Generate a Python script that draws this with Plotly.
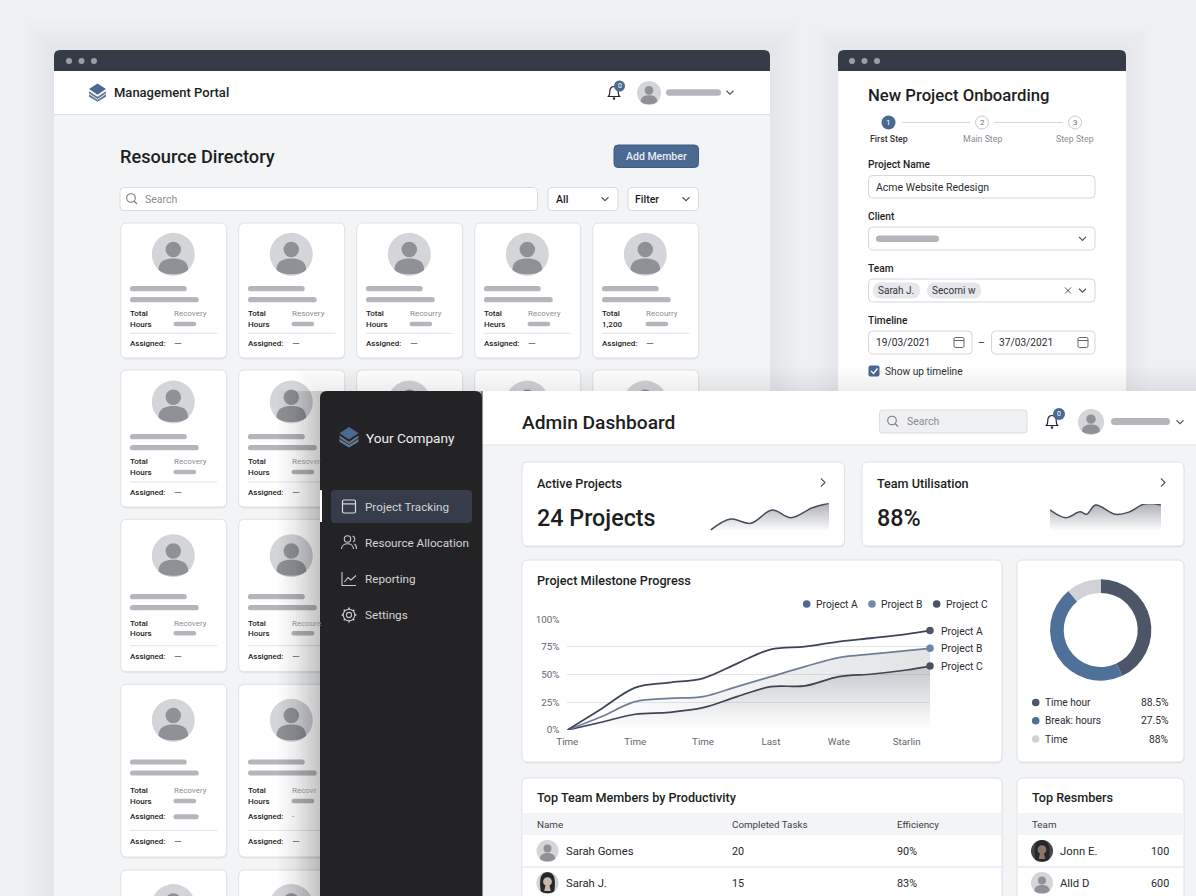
import math
import plotly.graph_objects as go

W = 1196
H = 896

# line chart
milestone_x = [0, 0.5, 1, 1.5, 2, 2.5, 3, 3.5, 4, 4.5, 5, 5.344]
project_a = [0, 19, 38.3, 42.8, 46.7, 60, 72.9, 75.3, 79.8, 83.1, 86.7, 89.8]
project_b = [0, 12, 25.6, 28.6, 30.1, 39.2, 48.2, 57.2, 65.4, 68.7, 71.7, 73.8]
project_c = [0, 7, 14.2, 16, 20.2, 30.1, 39.2, 39.8, 48.2, 50.6, 54.2, 57.8]
time_ticks = [0, 1, 2, 3, 4, 5]
time_labels = ["Time", "Time", "Time", "Last", "Wate", "Starlin"]
pct_ticks = [0, 25, 50, 75, 100]
pct_labels = ["0%", "25%", "50%", "75%", "100%"]
series_names = ["Project A", "Project B", "Project C"]

# sparklines
active_x = [0, 0.17, 0.34, 0.52, 0.68, 0.86, 1]
active_y = [5, 44, 29, 76, 49, 84, 100]
util_x = [0, 0.14, 0.27, 0.33, 0.41, 0.59, 0.71, 0.85, 1]
util_y = [78, 49, 71, 62, 96, 62, 70, 100, 96]

# donut
donut_labels = ["Time hour", "Break: hours", "Time"]
donut_values = [43, 46, 11]
donut_texts = ["88.5%", "27.5%", "88%"]

# tables
member_names = ["Sarah Gomes", "Sarah J."]
member_tasks = ["20", "15"]
member_eff = ["90%", "83%"]
res_names = ["Jonn E.", "Alld D"]
res_vals = ["100", "600"]

# directory cards
row1_hours = ["Hours", "Hours", "Hours", "Heurs", "1,200"]
row1_status = ["Recovery", "Resovery", "Recourry", "Recovery", "Recourry"]
col_status = [["Recovery", "Resover"], ["Recovery", "Recoure"], ["Recovery", "Recovr"]]

DARK_BAR = "#363c47"
BLUE = "#4a6a92"
INK = "#1c1e22"
GREY_TXT = "#8a8d94"
BAR = "#b4b6bb"
EDGE = "#dfe1e6"
PANEL = "#f3f4f6"

shapes = []
notes = []


def px_x(x):
    return x / W


def px_y(y):
    return 1 - y / H


def path(d, fill=None, line=None, lw=1.0):
    s = dict(type="path", path=d, xref="x", yref="y", layer="below")
    s["fillcolor"] = fill if fill else "rgba(0,0,0,0)"
    s["line"] = dict(color=line, width=lw) if line else dict(width=0)
    shapes.append(s)


def rr(x0, y0, x1, y1, r, fill=None, line=None, lw=1.0, top_only=False):
    if top_only:
        d = (f"M{x0},{y1} L{x0},{y0+r} Q{x0},{y0} {x0+r},{y0} L{x1-r},{y0} "
             f"Q{x1},{y0} {x1},{y0+r} L{x1},{y1} Z")
    else:
        d = (f"M{x0+r},{y0} L{x1-r},{y0} Q{x1},{y0} {x1},{y0+r} L{x1},{y1-r} "
             f"Q{x1},{y1} {x1-r},{y1} L{x0+r},{y1} Q{x0},{y1} {x0},{y1-r} "
             f"L{x0},{y0+r} Q{x0},{y0} {x0+r},{y0} Z")
    path(d, fill, line, lw)


def circle(cx, cy, r, fill=None, line=None, lw=1.0):
    shapes.append(dict(type="circle", xref="x", yref="y", layer="below",
                       x0=cx-r, x1=cx+r, y0=cy-r, y1=cy+r,
                       fillcolor=fill if fill else "rgba(0,0,0,0)",
                       line=dict(color=line, width=lw) if line else dict(width=0)))


def pill(x0, x1, y, h, fill=BAR):
    rr(x0, y-h/2, x1, y+h/2, h/2, fill)


def hline(x0, x1, y, color=EDGE, lw=1.0):
    path(f"M{x0},{y} L{x1},{y}", None, color, lw)


def txt(x, y, s, size=10, color=INK, anchor="left", weight=400):
    notes.append(dict(x=x, y=y, xref="x", yref="y", text=s, showarrow=False,
                      xanchor=anchor, yanchor="middle", borderpad=0, borderwidth=0,
                      font=dict(family="Roboto", size=size, color=color, weight=weight)))


def shadow(x0, y0, x1, y1, spread, n, alpha, left=True, top=True, right=True):
    for i in range(n):
        k = spread * (n - i) / n
        rr(x0 - (k if left else 0), y0 - (k if top else 0),
           x1 + (k if right else 0), y1, 2, f"rgba(30,33,40,{alpha})")


def avatar(cx, cy, r, bg="#d3d5d9", fg="#8f9196"):
    circle(cx, cy, r, bg)
    circle(cx, cy - 0.22*r, 0.36*r, fg)
    path(f"M{cx-.69*r},{cy+.72*r} C{cx-.69*r},{cy+.3*r} {cx-.35*r},{cy+.19*r} {cx},{cy+.19*r} "
         f"C{cx+.35*r},{cy+.19*r} {cx+.69*r},{cy+.3*r} {cx+.69*r},{cy+.72*r} "
         f"C{cx+.45*r},{cy+1.0*r} {cx-.45*r},{cy+1.0*r} {cx-.69*r},{cy+.72*r} Z", fg)


def photo(cx, cy, r, hair, face, bg):
    circle(cx, cy, r, bg)
    path(f"M{cx-.62*r},{cy+.75*r} C{cx-.85*r},{cy-.9*r} {cx-.3*r},{cy-.98*r} {cx},{cy-.98*r} "
         f"C{cx+.3*r},{cy-.98*r} {cx+.85*r},{cy-.9*r} {cx+.62*r},{cy+.75*r} "
         f"C{cx+.4*r},{cy+.98*r} {cx-.4*r},{cy+.98*r} {cx-.62*r},{cy+.75*r} Z", hair)
    circle(cx, cy - .12*r, .4*r, face)
    path(f"M{cx-.18*r},{cy+.2*r} L{cx-.3*r},{cy+.72*r} L{cx+.3*r},{cy+.72*r} L{cx+.18*r},{cy+.2*r} Z", face)


def chevron(cx, cy, s=3.5, color="#50535a", lw=1.1):
    path(f"M{cx-s},{cy-s*.5} L{cx},{cy+s*.5} L{cx+s},{cy-s*.5}", None, color, lw)


def chevron_right(cx, cy, s=4, color="#50535a"):
    path(f"M{cx-s*.5},{cy-s} L{cx+s*.5},{cy} L{cx-s*.5},{cy+s}", None, color, 1.1)


def search_icon(cx, cy, color="#75787e"):
    circle(cx-1, cy-1, 4.3, None, color, 1.1)
    path(f"M{cx+2},{cy+2} L{cx+5},{cy+5}", None, color, 1.1)


def calendar(cx, cy, color="#63666c", s=5, lw=1.0):
    rr(cx-s, cy-s, cx+s, cy+s, 1.5, None, color, lw)
    hline(cx-s, cx+s, cy-s*.4, color, lw)


def logo(cx, cy, s):
    path(f"M{cx-s},{cy+.2*s} L{cx},{cy+.85*s} L{cx+s},{cy+.2*s} L{cx+s},{cy+.5*s} L{cx},{cy+1.1*s} L{cx-s},{cy+.5*s} Z", "#5f7da3")
    path(f"M{cx-s},{cy-.15*s} L{cx},{cy+.5*s} L{cx+s},{cy-.15*s} L{cx+s},{cy+.1*s} L{cx},{cy+.75*s} L{cx-s},{cy+.1*s} Z", "#6b7484")
    path(f"M{cx-s},{cy-.4*s} L{cx},{cy-1.05*s} L{cx+s},{cy-.4*s} L{cx},{cy+.25*s} Z", BLUE)


def bell(cx, cy, badge_x, badge_y, br):
    path(f"M{cx-5.5},{cy+4} C{cx-3.5},{cy+2} {cx-4.5},{cy-2} {cx-4},{cy-3} "
         f"C{cx-3},{cy-7} {cx+3},{cy-7} {cx+4},{cy-3} C{cx+4.5},{cy-2} {cx+3.5},{cy+2} {cx+5.5},{cy+4} Z",
         None, "#24262b", 1.2)
    circle(cx, cy+6, 1.3, "#24262b")
    circle(badge_x, badge_y, br, BLUE)
    txt(badge_x, badge_y, "0", 7, "white", "center")


def window_dots(x, y):
    for dx in (0, 12.5, 25):
        circle(x+dx, y, 3, "#9a9fa6")


def card(x0, y0, x1, y1, r=6):
    rr(x0+.5, y0+1, x1+.5, y1+1.5, r, "rgba(40,44,55,0.07)")
    rr(x0, y0, x1, y1, r, "white", EDGE, 1)


# ---- left window
shadow(54, 50, 770, 896, 30, 10, 0.004)
rr(54, 50, 770, 896, 6, PANEL, top_only=True)
rr(54, 50, 770, 72, 6, DARK_BAR, top_only=True)
window_dots(69, 61)
path("M54,71 L770,71 L770,114.5 L54,114.5 Z", "white")
hline(54, 770, 114.5)
logo(97.5, 92.5, 8.5)
txt(114, 92.5, "Management Portal", 13, INK, weight=500)
bell(614, 92.5, 619.5, 86, 5.5)
avatar(649, 93, 12)
pill(666, 721, 92.5, 6.5)
chevron(730, 92.5)

txt(120, 156, "Resource Directory", 18.2, INK, weight=500)
rr(614, 145, 698.5, 167.5, 4, BLUE, "#3f5d83", 1)
txt(656, 156, "Add Member", 10.5, "#e9edf2", "center", 500)
rr(120, 187.5, 537.5, 210.5, 4, "white", "#d8dade", 1)
search_icon(132, 199)
txt(145, 199, "Search", 10.5, GREY_TXT)
rr(548, 187.5, 618, 210.5, 4, "white", "#d8dade", 1)
txt(555.5, 199, "All", 10.5, INK, weight=500)
chevron(605, 199)
rr(628, 187.5, 698.5, 210.5, 4, "white", "#d8dade", 1)
txt(635, 199, "Filter", 10.5, INK, weight=500)
chevron(686, 199)

col_x = [120.7, 238.7, 356.7, 474.7, 592.7]
# top, bottom, avatar y, bar1, bar2, total y, hours y, divider y, assigned y
rows = [
    (223, 358, 254.3, 288.7, 299.7, 313.7, 324, 333.3, 343),
    (370, 507, 402, 436.7, 447.7, 461.7, 472, 482, 492),
    (519.3, 671.7, 555.7, 596.7, 607.7, 623.3, 633.3, 645.7, 656.3),
    (684.3, 857, 720.3, 762, 773, 790.7, 801, 830.3, 841),
]


def dir_card(x, row, hours, status, draw_text=True):
    top, bot, ay, b1, b2, ty, hy, dy, asy = row
    card(x, top, x+106, bot)
    avatar(x+52.6, ay, 21.5)
    pill(x+9.3, x+66, b1, 5.2)
    pill(x+9.3, x+78, b2, 5.2)
    pill(x+52.8, x+75.5, hy, 4.5)
    hline(x+9.3, x+96.5, dy, "#e2e3e8")
    if draw_text:
        txt(x+9.3, ty, "Total", 8, INK, weight=500)
        txt(x+9.3, hy, hours, 8, INK, weight=500)
        txt(x+52.8, ty, status, 8, GREY_TXT)
        txt(x+9.3, asy, "Assigned:", 8, INK, weight=500)
        txt(x+52.8, asy, "—", 10, "#6b6e74")


for i, x in enumerate(col_x):
    dir_card(x, rows[0], row1_hours[i], row1_status[i])
for r in range(1, 4):
    for c in range(2):
        dir_card(col_x[c], rows[r], "Hours", col_status[r-1][c])
for x in col_x[2:]:
    dir_card(x, rows[1], "Hours", "", draw_text=False)

# extra line in the 4th row
txt(col_x[0]+9.3, 816.7, "Assigned:", 8, INK, weight=500)
pill(col_x[0]+52.8, col_x[0]+78, 816.7, 5)
txt(col_x[1]+9.3, 816.7, "Assigned:", 8, INK, weight=500)
txt(col_x[1]+52.8, 816.7, "-", 8, "#6b6e74")

# fifth row, cut off by the page
for x in col_x[:2]:
    card(x, 870, x+106, 930)
    avatar(x+52.6, 906, 22)

# ---- right window
shadow(838, 50, 1126, 896, 25, 8, 0.004)
rr(838, 50, 1126, 72, 6, DARK_BAR, top_only=True)
path("M838,71 L1126,71 L1126,400 L838,400 Z", "white")
window_dots(852, 61)
txt(868, 95.5, "New Project Onboarding", 16.7, INK, weight=500)

circle(888.5, 122.5, 7, BLUE)
txt(888.5, 122.5, "1", 8, "white", "center")
hline(902, 970, 122.5, "#d5d7db")
circle(982, 122.5, 6.5, "white", "#c9cbd0", 1)
txt(982, 122.5, "2", 8, "#6b6e74", "center")
hline(994, 1063, 122.5, "#d5d7db")
circle(1075, 122.5, 6.5, "white", "#c9cbd0", 1)
txt(1075, 122.5, "3", 8, "#6b6e74", "center")
txt(889, 138.8, "First Step", 8.8, "#30333a", "center", 500)
txt(982, 138.8, "Main Step", 8.8, GREY_TXT, "center")
txt(1075, 138.8, "Step Step", 8.8, GREY_TXT, "center")

txt(868, 164.5, "Project Name", 10.2, INK, weight=500)
rr(868.5, 175.5, 1095, 198, 4, "white", "#d5d7db", 1)
txt(876, 187, "Acme Website Redesign", 10.5, "#2c2e33")
txt(868, 216, "Client", 10.2, INK, weight=500)
rr(868.5, 227, 1095, 250, 4, "white", "#d5d7db", 1)
pill(876, 939, 238.7, 6.5)
chevron(1082.5, 238.7)
txt(868, 268, "Team", 10.2, INK, weight=500)
rr(868.5, 279, 1095, 302, 4, "white", "#d5d7db", 1)
rr(873, 282.5, 920, 298.5, 8, "#e6e7ea")
txt(878, 290.5, "Sarah J.", 10, "#34363c")
rr(927, 282.5, 981, 298.5, 8, "#e6e7ea")
txt(932, 290.5, "Secorni w", 10, "#34363c")
path("M1065,287.5 L1071,293.5 M1071,287.5 L1065,293.5", None, "#50535a", 1)
chevron(1082.5, 290.5)
txt(868, 320, "Timeline", 10.2, INK, weight=500)
rr(868.5, 331, 972, 354, 4, "white", "#d5d7db", 1)
txt(876, 342.5, "19/03/2021", 10.2, "#2c2e33")
calendar(959, 342.5)
txt(981.5, 342.5, "–", 10.5, "#2c2e33", "center")
rr(991.5, 331, 1095, 354, 4, "white", "#d5d7db", 1)
txt(999, 342.5, "37/03/2021", 10.2, "#2c2e33")
calendar(1083, 342.5)
rr(868.5, 365.5, 879.5, 376.5, 2, BLUE)
path("M871,371 L873.5,373.5 L877.5,368.5", None, "white", 1.3)
txt(885, 371, "Show up timeline", 10.2, "#2c2e33")

# ---- dashboard
shadow(320, 391, 1300, 940, 24, 8, 0.007, right=False)
shadow(320, 391, 1300, 940, 42, 14, 0.013, top=False, right=False)
rr(482, 391, 1196, 896, 0.1, PANEL)
path("M482,391 L1196,391 L1196,445 L482,445 Z", "white")
hline(482, 1196, 445, "#e3e4e8")
rr(320, 391, 482, 896, 7, "#232326", top_only=True)
path("M482,391 L482,896", None, "#2a2a2d", 1)

logo(349, 437, 9.5)
txt(366, 437.5, "Your Company", 13.6, "#eef0f2", weight=400)
rr(320, 490, 322, 522, 0.5, "white")
rr(331, 490, 472, 523, 4, "#363c49")
menu_items = ["Project Tracking", "Resource Allocation", "Reporting", "Settings"]
menu_y = [506.5, 542.5, 578.5, 615]
for label, y in zip(menu_items, menu_y):
    txt(365, y, label, 11.7, "#d3d4d7")
calendar(349, 506.5, "#d9dadd", 6.5, 1.2)
circle(347.5, 539, 3.2, None, "#c9cacd", 1.1)
path("M341.5,549 C341.5,542 353.5,542 353.5,549", None, "#c9cacd", 1.1)
path("M352.5,536 C355.5,537 355.5,541 353,542 M354.5,544 C356.5,545 356.5,547 356.5,549", None, "#c9cacd", 1.1)
path("M342,572 L342,585.5 L356,585.5 M344.5,582 L348,577.5 L351,580 L356,575.5", None, "#c9cacd", 1.1)
circle(349, 615, 2.6, None, "#c9cacd", 1.1)
circle(349, 615, 5.8, None, "#c9cacd", 1.1)
for k in range(8):
    a = k * math.pi / 4
    path(f"M{349+5.8*math.cos(a)},{615+5.8*math.sin(a)} L{349+7.4*math.cos(a)},{615+7.4*math.sin(a)}",
         None, "#c9cacd", 1.6)

txt(522, 422, "Admin Dashboard", 19.2, INK, weight=500)
rr(879.5, 410, 1027, 433, 3, "#eef0f2", "#dcdee2", 1)
search_icon(893, 421.5)
txt(907, 421.5, "Search", 10.5, GREY_TXT)
bell(1052, 421.5, 1059, 414, 6)
avatar(1091, 422, 13)
pill(1111, 1170, 421.5, 7)
chevron(1180, 422)

card(522, 462, 844.5, 546)
txt(537, 483, "Active Projects", 12.6, INK, weight=500)
txt(537, 518, "24 Projects", 23.3, INK, weight=500)
chevron_right(823, 482.5)
card(862, 462, 1184, 546)
txt(877, 483, "Team Utilisation", 12.6, INK, weight=500)
txt(877, 518, "88%", 23.3, INK, weight=500)
chevron_right(1163, 482.5)

card(522, 560, 1002, 762)
txt(537, 580.5, "Project Milestone Progress", 12.7, INK, weight=500)
dot_colors = [BLUE, "#7389aa", "#4a5261"]
for dx, lx, name, col in zip([806.7, 872, 936.7], [815.5, 881, 945.5], series_names, dot_colors):
    circle(dx, 604, 3.8, col)
    txt(lx, 604, name, 10.3, "#2b2d32")
for y, name in zip([631, 648.7, 666.3], series_names):
    txt(941, y, name, 10.3, "#2b2d32")

card(1017, 560, 1184, 762)
donut_colors = ["#4d5666", "#4f7099", "#d0d2d6"]
for y, label, val, col in zip([702.5, 720.8, 739], donut_labels, donut_texts, donut_colors):
    circle(1035.7, y, 3.8, col)
    txt(1045, y, label, 10.1, "#2b2d32")
    txt(1169, y, val, 10.3, "#2b2d32", "right")

card(522, 778, 1002, 930)
txt(537, 797.5, "Top Team Members by Productivity", 12.6, INK, weight=500)
path("M522.5,813 L1001.5,813 L1001.5,835 L522.5,835 Z", PANEL)
txt(537, 824.5, "Name", 9.8, "#3c3e44")
txt(732, 824.5, "Completed Tasks", 9.8, "#3c3e44")
txt(897, 824.5, "Efficiency", 9.8, "#3c3e44")
hline(522.5, 1001.5, 867, "#e7e8ec", 1.5)
for y, name, t, e in zip([851, 883], member_names, member_tasks, member_eff):
    txt(565.5, y, name, 11.3, "#26282d")
    txt(732, y, t, 10.8, "#26282d")
    txt(897, y, e, 10.8, "#26282d")
avatar(547.5, 851, 11)
photo(547.5, 883, 11, "#25262a", "#c9b8aa", "#cfd1d4")

card(1017, 778, 1184, 930)
txt(1032, 797.5, "Top Resmbers", 12.6, INK, weight=500)
path("M1017.5,813 L1183.5,813 L1183.5,835 L1017.5,835 Z", PANEL)
txt(1032, 824.5, "Team", 9.8, "#3c3e44")
hline(1017.5, 1183.5, 867, "#e7e8ec", 1.5)
for y, name, v in zip([851, 883], res_names, res_vals):
    txt(1060, y, name, 11.3, "#26282d")
    txt(1169, y, v, 10.8, "#26282d", "right")
photo(1042, 851, 11, "#27282b", "#8d7567", "#45464a")
avatar(1042, 883, 11)

# ---- traces
fig = go.Figure()
fig.add_trace(go.Scatter(x=[0, W], y=[0, H], mode="markers", marker=dict(opacity=0), hoverinfo="skip",
                         showlegend=False, xaxis="x", yaxis="y"))

line_a = "#3d4656"
line_b = "#6f7f99"
line_c = "#3f4653"
grey_stops = [[0, "rgba(120,124,134,0)"], [1, "rgba(120,124,134,0.42)"]]

fig.add_trace(go.Scatter(x=milestone_x, y=project_c, mode="lines", name="Project C", xaxis="x2", yaxis="y2",
                         line=dict(color=line_c, width=1.7, shape="spline", smoothing=1.0), fill="tozeroy",
                         fillgradient=dict(type="vertical", colorscale=grey_stops, start=0, stop=57.8),
                         showlegend=False, cliponaxis=False))
fig.add_trace(go.Scatter(x=milestone_x, y=project_b, mode="lines", name="Project B", xaxis="x2", yaxis="y2",
                         line=dict(color=line_b, width=1.7, shape="spline", smoothing=1.0), fill="tonexty",
                         fillgradient=dict(type="horizontal",
                                           colorscale=[[0, "rgba(140,144,152,0)"], [1, "rgba(140,144,152,0.25)"]]),
                         showlegend=False, cliponaxis=False))
fig.add_trace(go.Scatter(x=milestone_x, y=project_a, mode="lines", name="Project A", xaxis="x2", yaxis="y2",
                         line=dict(color=line_a, width=1.8, shape="spline", smoothing=1.0),
                         showlegend=False, cliponaxis=False))
for vals, col in zip([project_a, project_b, project_c], ["#4d5666", "#6a85aa", "#4a5261"]):
    fig.add_trace(go.Scatter(x=milestone_x[-1:], y=vals[-1:], mode="markers", xaxis="x2", yaxis="y2",
                             marker=dict(color=col, size=7.5), showlegend=False, cliponaxis=False))

spark_stops = [[0, "rgba(120,124,134,0)"], [1, "rgba(120,124,134,0.6)"]]
for sx, sy, xa, ya in [(active_x, active_y, "x3", "y3"), (util_x, util_y, "x4", "y4")]:
    fig.add_trace(go.Scatter(x=sx, y=sy, mode="lines", xaxis=xa, yaxis=ya, fill="tozeroy",
                             line=dict(color="#454d5c", width=1.5, shape="spline", smoothing=1.0),
                             fillgradient=dict(type="vertical", colorscale=spark_stops, start=0, stop=100),
                             showlegend=False, cliponaxis=False))

fig.add_trace(go.Pie(labels=donut_labels, values=donut_values, hole=0.73, sort=False, direction="clockwise",
                     rotation=0, textinfo="none", showlegend=False,
                     marker=dict(colors=donut_colors, line=dict(width=0)),
                     domain=dict(x=[px_x(1050), px_x(1151.4)], y=[px_y(680.7), px_y(579.3)])))


def hidden_axis(**kw):
    return dict(visible=False, showgrid=False, zeroline=False, fixedrange=True, automargin=False, **kw)


fig.update_layout(
    template="none",
    width=W, height=H, margin=dict(l=0, r=0, t=0, b=0, pad=0), autosize=False,
    paper_bgcolor="#eff0f3", plot_bgcolor="rgba(0,0,0,0)",
    font=dict(family="Roboto"), showlegend=False, hovermode=False,
    shapes=shapes, annotations=notes,
    xaxis=hidden_axis(domain=[0, 1], range=[0, W]),
    yaxis=hidden_axis(domain=[0, 1], range=[H, 0]),
    xaxis2=dict(domain=[px_x(567.3), px_x(930)], range=[0, 5.344], anchor="y2", tickmode="array",
                tickvals=time_ticks, ticktext=time_labels, showgrid=False, zeroline=False, showline=False,
                ticks="outside", ticklen=2, tickcolor="rgba(0,0,0,0)", tickfont=dict(size=9.8, color="#63666c"),
                fixedrange=True, automargin=False),
    yaxis2=dict(domain=[px_y(730), px_y(619.3)], range=[0, 100], anchor="x2", tickmode="array",
                tickvals=pct_ticks, ticktext=pct_labels, showgrid=True, gridcolor="#e3e4e8", gridwidth=1,
                zeroline=False, showline=False, ticks="outside", ticklen=5, tickcolor="rgba(0,0,0,0)",
                tickfont=dict(size=9.8, color="#63666c"), fixedrange=True, automargin=False),
    xaxis3=hidden_axis(domain=[px_x(710.5), px_x(829)], range=[0, 1], anchor="y3"),
    yaxis3=hidden_axis(domain=[px_y(531.5), px_y(503.3)], range=[0, 100], anchor="x3"),
    xaxis4=hidden_axis(domain=[px_x(1050), px_x(1161)], range=[0, 1], anchor="y4"),
    yaxis4=hidden_axis(domain=[px_y(531), px_y(504)], range=[0, 100], anchor="x4"),
)

fig.write_html("out.html", config={"displayModeBar": False},
               post_script="document.body.style.margin='0';document.body.style.overflow='hidden';")
